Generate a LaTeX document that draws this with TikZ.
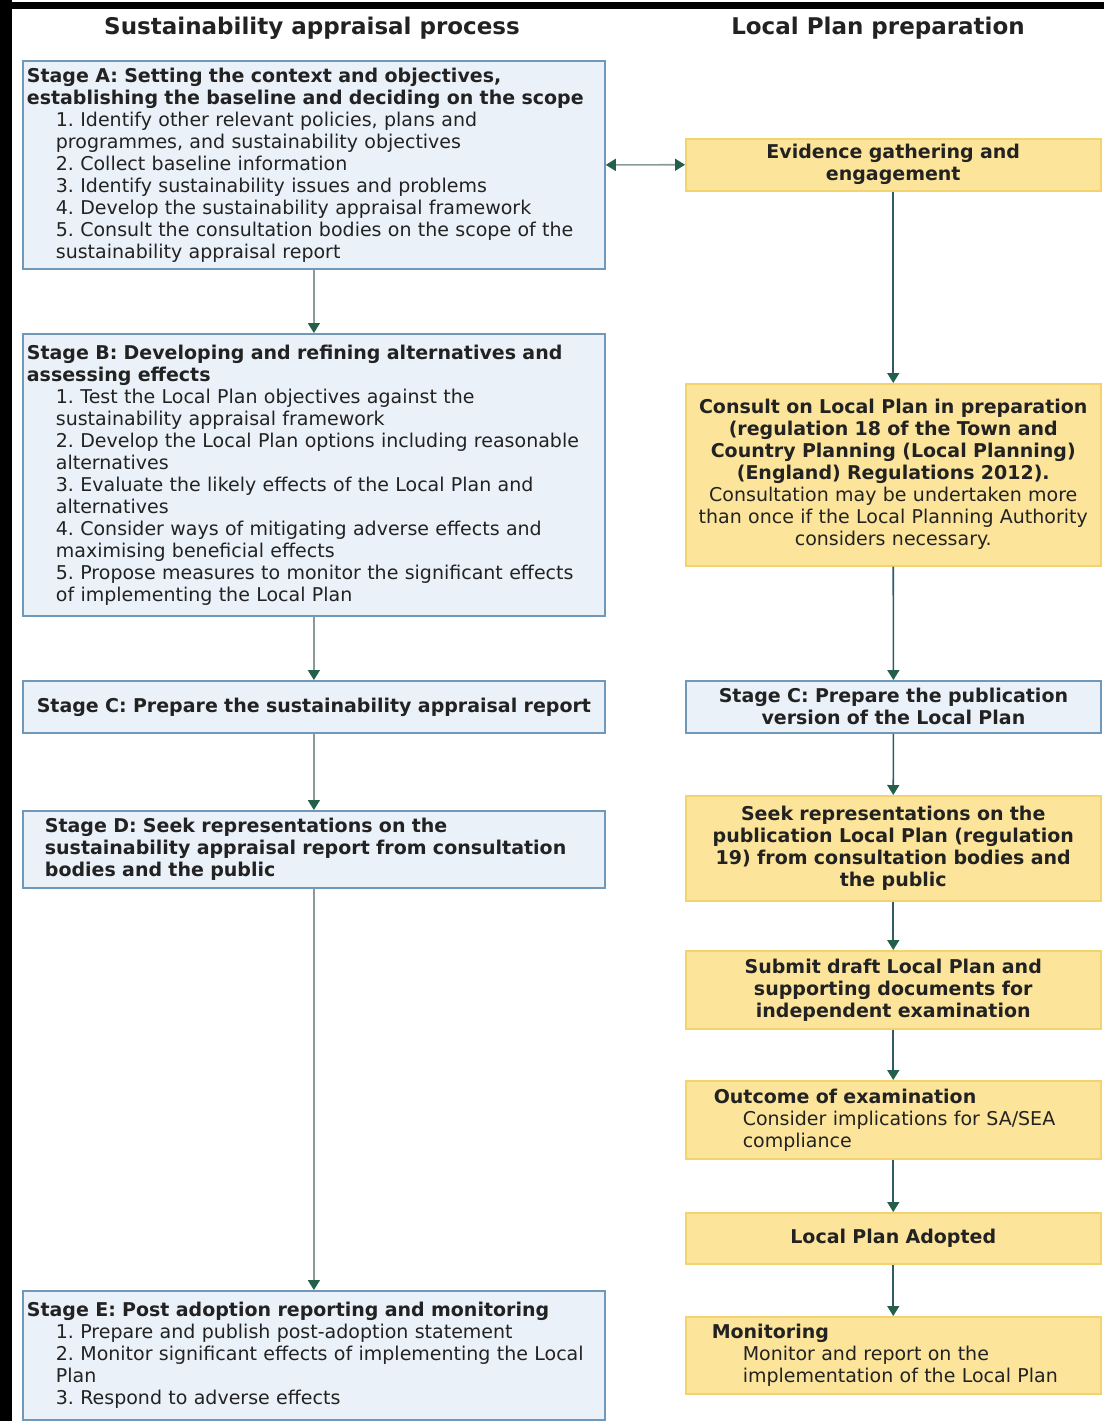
\documentclass[tikz,border=0pt]{standalone}
\usepackage{fontspec}
\setmainfont{DejaVu Sans}
\usetikzlibrary{positioning,arrows.meta}

\definecolor{sablue}{HTML}{EAF1F8}
\definecolor{saedge}{HTML}{6F98B9}
\definecolor{lpyellow}{HTML}{FCE59A}
\definecolor{lpedge}{HTML}{F2D36E}
\definecolor{tipgreen}{HTML}{22604A}
\definecolor{leftline}{HTML}{8A9A9A}
\definecolor{rightline}{HTML}{305A68}
\definecolor{ink}{HTML}{222222}

\tikzset{
  body/.style={font=\fontsize{19}{22}\selectfont\frenchspacing, text=ink, inner ysep=2pt},
  sabox/.style={body, draw=saedge, fill=sablue, line width=1.8pt, anchor=north west,
    text width=574pt, inner xsep=4pt, align=left},
  lpbox/.style={body, draw=lpedge, fill=lpyellow, line width=1.5pt, anchor=north west,
    text width=407pt, inner xsep=4pt, align=center},
  head/.style={font=\fontsize{23}{26}\selectfont\bfseries, text=ink},
  flow/.style={line width=1.6pt, -{Triangle[width=12pt,length=10pt,color=tipgreen]}},
  twoway/.style={line width=1.6pt, {Triangle[width=12pt,length=10pt,color=tipgreen]}-{Triangle[width=12pt,length=10pt,color=tipgreen]}},
}
\newcommand{\ind}{\hspace*{29pt}}

\begin{document}
\begin{tikzpicture}[x=1pt, y=-1pt]
		\useasboundingbox (0,0) rectangle (1104,1421);
		% frame
		\fill[black] (0,0) rectangle (12,1421);
		\fill[black] (0,2) rectangle (1104,9);

		% column headings
		\node[head] (hsa) at (312,28) {Sustainability appraisal process};
		\node[head] (hlp) at (878,28) {Local Plan preparation};

		% sustainability appraisal side
		\node[sabox, minimum height=208pt] (stA) at (22,60) {\textbf{Stage A: Setting the context and objectives,}\\
			\textbf{establishing the baseline and deciding on the scope}\\
			\ind 1. Identify other relevant policies, plans and\\
			\ind programmes, and sustainability objectives\\
			\ind 2. Collect baseline information\\
			\ind 3. Identify sustainability issues and problems\\
			\ind 4. Develop the sustainability appraisal framework\\
			\ind 5. Consult the consultation bodies on the scope of the\\
			\ind sustainability appraisal report};
		\node[sabox, minimum height=282pt] (stB) at (22,333) {\textbf{Stage B: Developing and refining alternatives and}\\
			\textbf{assessing effects}\\
			\ind 1. Test the Local Plan objectives against the\\
			\ind sustainability appraisal framework\\
			\ind 2. Develop the Local Plan options including reasonable\\
			\ind alternatives\\
			\ind 3. Evaluate the likely effects of the Local Plan and\\
			\ind alternatives\\
			\ind 4. Consider ways of mitigating adverse effects and\\
			\ind maximising beneficial effects\\
			\ind 5. Propose measures to monitor the significant effects\\
			\ind of implementing the Local Plan};
		\node[sabox, align=center, minimum height=52pt] (stC) at (22,680) {\textbf{Stage C: Prepare the sustainability appraisal report}};
		\node[sabox, text width=538pt, inner xsep=22pt, minimum height=77pt] (stD) at (22,810) {\textbf{Stage D: Seek representations on the}\\
			\textbf{sustainability appraisal report from consultation}\\
			\textbf{bodies and the public}};
		\node[sabox, minimum height=129pt] (stE) at (22,1290) {\textbf{Stage E: Post adoption reporting and monitoring}\\
			\ind 1. Prepare and publish post-adoption statement\\
			\ind 2. Monitor significant effects of implementing the Local\\
			\ind Plan\\
			\ind 3. Respond to adverse effects};

		% local plan side
		\node[lpbox, minimum height=52pt] (evid) at (685,138) {\textbf{Evidence gathering and}\\ \textbf{engagement}};
		\node[lpbox, minimum height=182pt] (reg18) at (685,383) {\textbf{Consult on Local Plan in preparation}\\
			\textbf{(regulation 18 of the Town and}\\
			\textbf{Country Planning (Local Planning)}\\
			\textbf{(England) Regulations 2012).}\\
			Consultation may be undertaken more\\
			than once if the Local Planning Authority\\
			considers necessary.};
		\node[lpbox, draw=saedge, fill=sablue, line width=1.8pt, minimum height=52pt] (pub) at (685,680) {\textbf{Stage C: Prepare the publication}\\ \textbf{version of the Local Plan}};
		\node[lpbox, minimum height=105pt] (reg19) at (685,795) {\textbf{Seek representations on the}\\
			\textbf{publication Local Plan (regulation}\\
			\textbf{19) from consultation bodies and}\\
			\textbf{the public}};
		\node[lpbox, minimum height=78pt] (subm) at (685,950) {\textbf{Submit draft Local Plan and}\\
			\textbf{supporting documents for}\\
			\textbf{independent examination}};
		\node[lpbox, align=left, minimum height=78pt] (exam) at (685,1080) {\hspace*{24pt}\textbf{Outcome of examination}\\
			\hspace*{53pt}Consider implications for SA/SEA\\
			\hspace*{53pt}compliance};
		\node[lpbox, minimum height=51pt] (adopt) at (685,1212) {\textbf{Local Plan Adopted}};
		\node[lpbox, align=left, minimum height=77pt] (mon) at (685,1316) {\hspace*{22pt}\textbf{Monitoring}\\
			\hspace*{53pt}Monitor and report on the\\
			\hspace*{53pt}implementation of the Local Plan};

		% connectors
		\draw[flow, draw=leftline] (stA.south) -- (stB.north);
		\draw[flow, draw=leftline] (stB.south) -- (stC.north);
		\draw[flow, draw=leftline] (stC.south) -- (stD.north);
		\draw[flow, draw=leftline] (stD.south) -- (stE.north);
		\draw[twoway, draw=leftline] (stA.east) -- (evid.west);
		\draw[flow, draw=rightline] (evid.south) -- (reg18.north);
		\draw[flow, draw=rightline] (reg18.south) -- (pub.north);
		\draw[flow, draw=rightline] (pub.south) -- (reg19.north);
		\draw[flow, draw=rightline] (reg19.south) -- (subm.north);
		\draw[flow, draw=rightline] (subm.south) -- (exam.north);
		\draw[flow, draw=rightline] (exam.south) -- (adopt.north);
		\draw[flow, draw=rightline] (adopt.south) -- (mon.north);
	\end{tikzpicture}
\end{document}
